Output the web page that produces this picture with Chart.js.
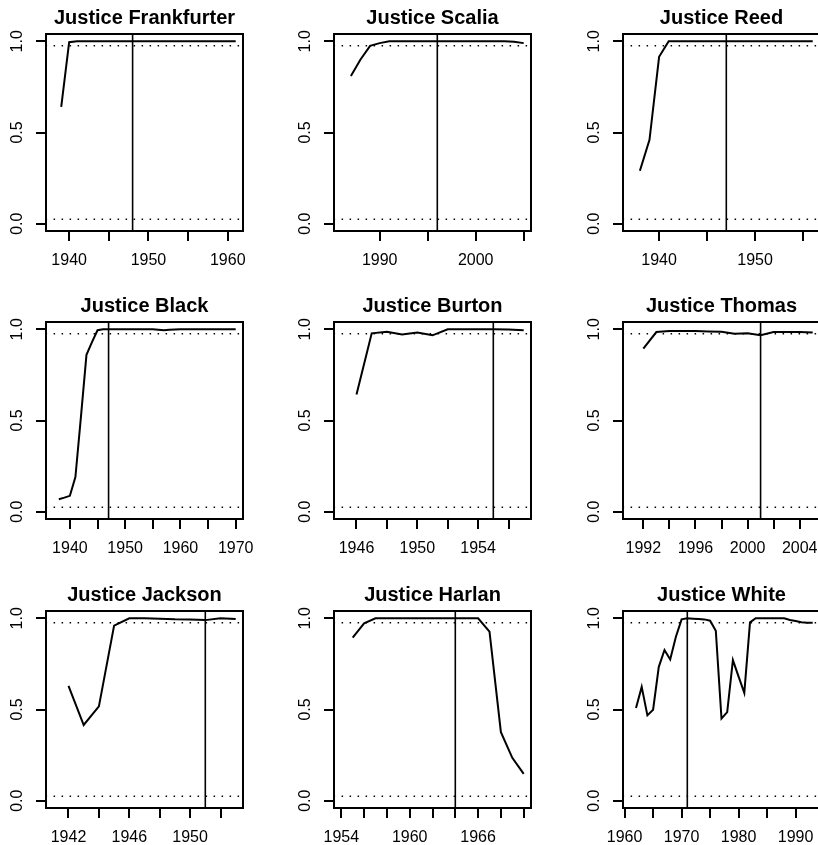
<!DOCTYPE html>
<html>
<head>
<meta charset="utf-8">
<script src="https://cdn.jsdelivr.net/npm/chart.js@4.4.1/dist/chart.umd.min.js"></script>
<style>
html, body { margin: 0; padding: 0; background: #fff; width: 818px; height: 845px; overflow: hidden; position: relative; }
canvas { position: absolute; }
</style>
</head>
<body>
<script>
// ---------- data ----------
const titles = ['Justice Frankfurter', 'Justice Scalia', 'Justice Reed',
                'Justice Black', 'Justice Burton', 'Justice Thomas',
                'Justice Jackson', 'Justice Harlan', 'Justice White'];

const startYears = [1939, 1987, 1938, 1938, 1946, 1992, 1942, 1955, 1962];

const frankfurter = [0.64, 0.995, 1, 1, 1, 1, 1, 1, 1, 1, 1, 1, 1, 1, 1, 1, 1, 1, 1, 1, 1, 1, 1];
const scalia = [0.81, 0.90, 0.975, 0.99, 1, 1, 1, 1, 1, 1, 1, 1, 1, 1, 1, 1, 1, 0.997, 0.99];
const reed = [0.29, 0.46, 0.915, 1, 1, 1, 1, 1, 1, 1, 1, 1, 1, 1, 1, 1, 1, 1, 1];
const black = [0.068, 0.077, 0.087, 0.19, 0.52, 0.86, 0.93, 0.995, 1, 1, 1, 1, 1, 1, 1, 1, 1, 1,
               0.998, 0.995, 0.997, 0.999, 1, 1, 1, 1, 1, 1, 1, 1, 1, 1, 1];
const burton = [0.642, 0.978, 0.987, 0.972, 0.982, 0.967, 1, 1, 1, 1, 0.999, 0.995];
const thomas = [0.894, 0.985, 0.99, 0.99, 0.99, 0.988, 0.987, 0.976, 0.978, 0.967, 0.985, 0.985, 0.985, 0.982];
const jackson = [0.629, 0.415, 0.517, 0.96, 1, 1, 0.998, 0.995, 0.994, 0.99, 1, 0.996];
const harlan = [0.894, 0.972, 1, 1, 1, 1, 1, 1, 1, 1, 1, 1, 0.927, 0.376, 0.235, 0.147];
const white = [0.508, 0.624, 0.468, 0.499, 0.734, 0.826, 0.774, 0.899, 0.994, 1,
               0.998, 0.996, 0.994, 0.987, 0.932, 0.45, 0.486, 0.771, 0.68, 0.591, 0.978,
               1, 1, 1, 1, 1, 1, 0.991, 0.985, 0.978, 0.976, 0.975];

const series = [frankfurter, scalia, reed, black, burton, thomas, jackson, harlan, white];

const markerYears = [1948, 1996, 1947, 1947, 1955, 2001, 1951, 1964, 1971];

const xRanges = [[1938, 1961], [1986, 2005], [1937, 1956],
                 [1937, 1970], [1945, 1957], [1991, 2005],
                 [1941, 1953], [1954, 1970], [1961, 1993]];

const xTicks = [[1940, 1945, 1950, 1955, 1960], [1990, 1995, 2000, 2005], [1940, 1945, 1950, 1955],
                [1940, 1945, 1950, 1955, 1960, 1965, 1970], [1946, 1948, 1950, 1952, 1954, 1956],
                [1992, 1994, 1996, 1998, 2000, 2002, 2004],
                [1942, 1944, 1946, 1948, 1950, 1952], [1954, 1956, 1958, 1960, 1962, 1964, 1966, 1968, 1970],
                [1960, 1965, 1970, 1975, 1980, 1985, 1990]];

const xTickLabels = [[1940, 1950, 1960], [1990, 2000], [1940, 1950],
                     [1940, 1950, 1960, 1970], [1946, 1950, 1954], [1992, 1996, 2000, 2004],
                     [1942, 1946, 1950], [1954, 1960, 1966], [1960, 1970, 1980, 1990]];

const yTicks = [0, 0.5, 1];
const yTickLabels = ['0.0', '0.5', '1.0'];
const bandLevels = [0.025, 0.975];
const yRange = [0, 1];

// ---------- layout ----------
const cellPos = [0, 288, 577];
const CW = 288, CH = 288;
const FONT = 'Liberation Sans, Arial, Helvetica, sans-serif';

const boxPlugin = {
  id: 'plotBox',
  afterDatasetsDraw(chart) {
    const { ctx, chartArea: { left, top, right, bottom } } = chart;
    ctx.save();
    ctx.lineWidth = 2;
    ctx.strokeStyle = '#000';
    ctx.strokeRect(left, top, right - left, bottom - top);
    ctx.restore();
  }
};

series.forEach((vals, i) => {
  const row = Math.floor(i / 3), col = i % 3;
  const cv = document.createElement('canvas');
  cv.width = CW; cv.height = CH;
  cv.style.left = cellPos[col] + 'px';
  cv.style.top = cellPos[row] + 'px';
  cv.style.width = CW + 'px'; cv.style.height = CH + 'px';
  document.body.appendChild(cv);

  const [a, b] = xRanges[i];
  const ext = 0.04 * (b - a);
  const xmin = a - ext, xmax = b + ext;
  const yext = 0.04 * (yRange[1] - yRange[0]);
  const ymin = yRange[0] - yext, ymax = yRange[1] + yext;

  const pts = vals.map((v, k) => ({ x: startYears[i] + k, y: v }));
  const common = { pointRadius: 0, borderColor: '#000', fill: false, tension: 0 };

  const datasets = [
    Object.assign({ data: pts, borderWidth: 2 }, common),
    ...bandLevels.map(l => Object.assign({
      data: [{ x: xmin, y: l }, { x: xmax, y: l }],
      borderWidth: 1.5, borderDash: [1.5, 6.5], borderDashOffset: 0.4
    }, common)),
    Object.assign({
      data: [{ x: markerYears[i], y: ymin }, { x: markerYears[i], y: ymax }],
      borderWidth: 1.6
    }, common)
  ];

  const gridOpts = { display: true, drawOnChartArea: false, drawTicks: true, tickLength: 10,
                     color: '#000', tickColor: '#000', lineWidth: 2 };

  new Chart(cv, {
    type: 'line',
    data: { datasets },
    plugins: [boxPlugin],
    options: {
      responsive: false,
      animation: false,
      devicePixelRatio: 1,
      events: [],
      layout: { padding: { left: 0, right: 45, top: 0, bottom: 0 } },
      plugins: {
        legend: { display: false },
        tooltip: { enabled: false },
        title: {
          display: true, text: titles[i], color: '#000', fullSize: false,
          font: { family: FONT, size: 20, weight: 'bold', lineHeight: 1 },
          padding: { top: 8, bottom: 6 }
        }
      },
      scales: {
        x: {
          type: 'linear', min: xmin, max: xmax, bounds: 'data',
          afterBuildTicks: s => { s.ticks = xTicks[i].map(v => ({ value: v })); },
          afterFit: s => { s.height = 57; },
          ticks: {
            autoSkip: false, maxRotation: 0, minRotation: 0, padding: 9.7, color: '#000',
            font: { family: FONT, size: 16, lineHeight: 1.2 },
            callback: v => xTickLabels[i].includes(v) ? String(v) : ''
          },
          grid: gridOpts,
          border: { display: false }
        },
        y: {
          type: 'linear', min: ymin, max: ymax, bounds: 'data',
          afterBuildTicks: s => { s.ticks = yTicks.map(v => ({ value: v })); },
          afterFit: s => { s.width = 46; },
          ticks: {
            autoSkip: false, minRotation: 90, maxRotation: 90, crossAlign: 'center', padding: 7,
            color: '#000', font: { family: FONT, size: 16, lineHeight: 1.2 },
            callback: (v, idx) => yTickLabels[idx]
          },
          grid: gridOpts,
          border: { display: false }
        }
      }
    }
  });
});
</script>
</body>
</html>
